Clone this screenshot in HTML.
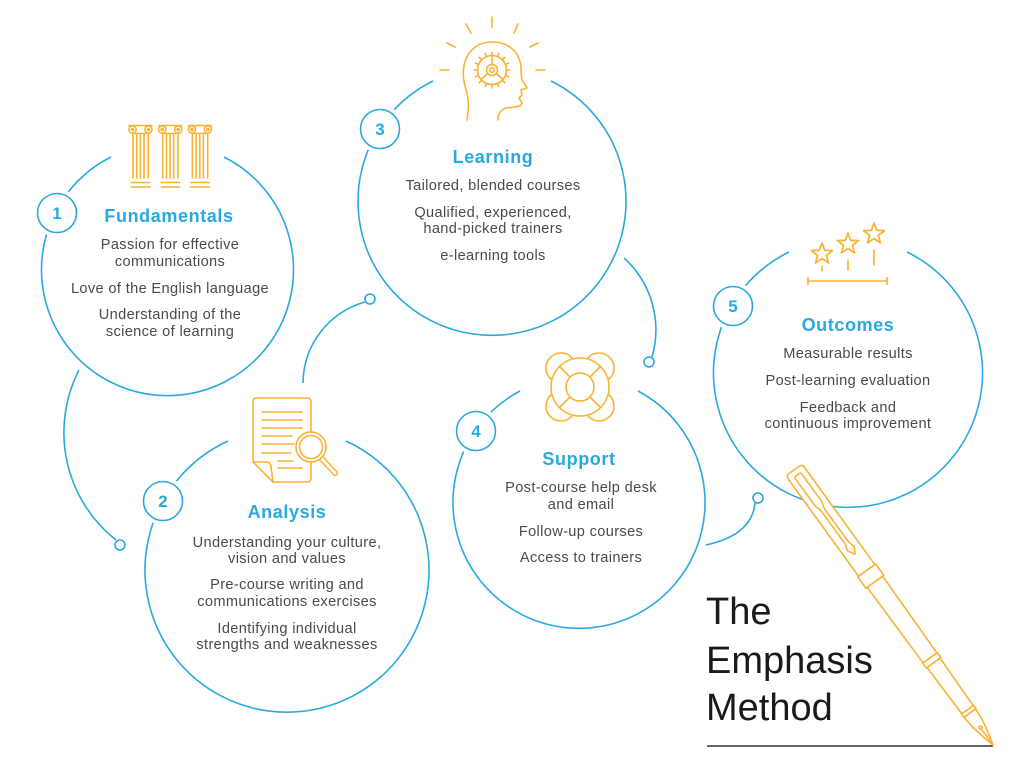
<!DOCTYPE html>
<html><head><meta charset="utf-8"><style>
html,body{margin:0;padding:0;background:#fff;}
svg{display:block;}
.b{fill:none;stroke:#2aa8e0;stroke-width:1.6;}
.o{fill:none;stroke:#f9b233;stroke-width:1.6;stroke-linecap:round;stroke-linejoin:round;}
.ow{fill:#fff;stroke:#f9b233;stroke-width:1.6;stroke-linejoin:round;}
.t{font-family:"Liberation Sans",Arial,sans-serif;font-weight:bold;font-size:18px;fill:#2aa8e0;text-anchor:middle;letter-spacing:0.6px;}
.x{font-family:"Liberation Sans",Arial,sans-serif;font-size:14.6px;fill:#4a4a4a;text-anchor:middle;letter-spacing:0.35px;}
.n{font-family:"Liberation Sans",Arial,sans-serif;font-weight:bold;font-size:17px;fill:#2aa8e0;text-anchor:middle;}
.h{font-family:"Liberation Sans",Arial,sans-serif;font-size:38px;fill:#1a1a1a;}
</style></head><body>
<svg width="1024" height="781" viewBox="0 0 1024 781" xmlns="http://www.w3.org/2000/svg">
<rect width="1024" height="781" fill="#fff"/>

<!-- main circles -->
<path class="b" d="M224,157 A126,126 0 1 1 111,157"/>
<path class="b" d="M346,441 A142,142 0 1 1 228,441"/>
<path class="b" d="M551,81 A134,134 0 1 1 433,81"/>
<path class="b" d="M638,391 A126,126 0 1 1 520,391"/>
<path class="b" d="M907,252 A134.5,134.5 0 1 1 789,252"/>

<!-- connectors -->
<path class="b" d="M79,370 A137,137 0 0 0 116,540"/>
<path class="b" d="M303,383 A85,85 0 0 1 365,302"/>
<path class="b" d="M624,258 A97,97 0 0 1 652,357"/>
<path class="b" d="M706,545 Q752,535 755,503"/>
<circle cx="120" cy="545" r="5" fill="#fff" stroke="#2aa8e0" stroke-width="1.6"/>
<circle cx="370" cy="299" r="5" fill="#fff" stroke="#2aa8e0" stroke-width="1.6"/>
<circle cx="649" cy="362" r="5" fill="#fff" stroke="#2aa8e0" stroke-width="1.6"/>
<circle cx="758" cy="498" r="5" fill="#fff" stroke="#2aa8e0" stroke-width="1.6"/>

<!-- number circles -->
<g>
<circle cx="57" cy="213" r="24" fill="#fff"/><circle cx="57" cy="213" r="19.5" fill="#fff" stroke="#2aa8e0" stroke-width="1.6"/>
<text class="n" x="57" y="219">1</text>
<circle cx="163" cy="501" r="24" fill="#fff"/><circle cx="163" cy="501" r="19.5" fill="#fff" stroke="#2aa8e0" stroke-width="1.6"/>
<text class="n" x="163" y="507">2</text>
<circle cx="380" cy="129" r="24" fill="#fff"/><circle cx="380" cy="129" r="19.5" fill="#fff" stroke="#2aa8e0" stroke-width="1.6"/>
<text class="n" x="380" y="135">3</text>
<circle cx="476" cy="431" r="24" fill="#fff"/><circle cx="476" cy="431" r="19.5" fill="#fff" stroke="#2aa8e0" stroke-width="1.6"/>
<text class="n" x="476" y="437">4</text>
<circle cx="733" cy="306" r="24" fill="#fff"/><circle cx="733" cy="306" r="19.5" fill="#fff" stroke="#2aa8e0" stroke-width="1.6"/>
<text class="n" x="733" y="312">5</text>
</g>

<!-- Text circle 1 -->
<text class="t" x="169" y="222">Fundamentals</text>
<text class="x" x="170" y="249">Passion for effective</text>
<text class="x" x="170" y="266">communications</text>
<text class="x" x="170" y="293">Love of the English language</text>
<text class="x" x="170" y="319">Understanding of the</text>
<text class="x" x="170" y="336">science of learning</text>

<!-- Text circle 2 -->
<text class="t" x="287" y="518">Analysis</text>
<text class="x" x="287" y="547">Understanding your culture,</text>
<text class="x" x="287" y="563">vision and values</text>
<text class="x" x="287" y="589">Pre-course writing and</text>
<text class="x" x="287" y="606">communications exercises</text>
<text class="x" x="287" y="633">Identifying individual</text>
<text class="x" x="287" y="649">strengths and weaknesses</text>

<!-- Text circle 3 -->
<text class="t" x="493" y="163">Learning</text>
<text class="x" x="493" y="190">Tailored, blended courses</text>
<text class="x" x="493" y="217">Qualified, experienced,</text>
<text class="x" x="493" y="233">hand-picked trainers</text>
<text class="x" x="493" y="260">e-learning tools</text>

<!-- Text circle 4 -->
<text class="t" x="579" y="465">Support</text>
<text class="x" x="581" y="492">Post-course help desk</text>
<text class="x" x="581" y="509">and email</text>
<text class="x" x="581" y="536">Follow-up courses</text>
<text class="x" x="581" y="562">Access to trainers</text>

<!-- Text circle 5 -->
<text class="t" x="848" y="331">Outcomes</text>
<text class="x" x="848" y="358">Measurable results</text>
<text class="x" x="848" y="385">Post-learning evaluation</text>
<text class="x" x="848" y="412">Feedback and</text>
<text class="x" x="848" y="428">continuous improvement</text>

<!-- Pillars icon -->
<defs>
<g id="pillar">
<path class="o" d="M129,125.5 H152"/>
<circle class="o" cx="132.5" cy="129.5" r="3.6"/>
<circle class="o" cx="148.5" cy="129.5" r="3.6"/>
<circle class="o" cx="132.5" cy="129.5" r="1"/>
<circle class="o" cx="148.5" cy="129.5" r="1"/>
<path class="o" d="M135,133.5 H146"/>
<path class="o" d="M133,134 V178 M148.3,134 V178 M136.8,135 V178 M140.4,135 V178 M144,135 V178"/>
<path class="o" d="M131.5,182.5 H150 M131.5,187 H150"/>
</g>
</defs>
<use href="#pillar"/>
<use href="#pillar" transform="translate(29.7,0)"/>
<use href="#pillar" transform="translate(59.4,0)"/>

<!-- Head icon -->
<g class="o">
<path d="M492,17 V27 M466,24 L471,33 M518,24 L514,33 M447,43 L455,47 M538,43 L530,47 M440,70 H449 M536,70 H545"/>
<path d="M467,120 C469,108 469,98 465,86 C459,62 470,42 492,42 C512,42 522,56 521,72 L522,80 L527,88 L521,90 L522,95 L519,98 L522,103 C521,107 515,107 506,108 C500,110 498,115 498,120"/>
<circle cx="492" cy="70" r="14.5"/>
<circle cx="492" cy="70" r="5.5"/>
<circle cx="492" cy="70" r="2.3"/>
<path d="M492,64.5 V55.5 M487.5,73.5 L481,79.5 M496.5,73.5 L503,79.5"/>
<g transform="translate(492,70)">
<line x1="0" y1="-14.5" x2="0" y2="-18" transform="rotate(0)"/>
<line x1="0" y1="-14.5" x2="0" y2="-18" transform="rotate(22.5)"/>
<line x1="0" y1="-14.5" x2="0" y2="-18" transform="rotate(45)"/>
<line x1="0" y1="-14.5" x2="0" y2="-18" transform="rotate(67.5)"/>
<line x1="0" y1="-14.5" x2="0" y2="-18" transform="rotate(90)"/>
<line x1="0" y1="-14.5" x2="0" y2="-18" transform="rotate(112.5)"/>
<line x1="0" y1="-14.5" x2="0" y2="-18" transform="rotate(135)"/>
<line x1="0" y1="-14.5" x2="0" y2="-18" transform="rotate(157.5)"/>
<line x1="0" y1="-14.5" x2="0" y2="-18" transform="rotate(180)"/>
<line x1="0" y1="-14.5" x2="0" y2="-18" transform="rotate(202.5)"/>
<line x1="0" y1="-14.5" x2="0" y2="-18" transform="rotate(225)"/>
<line x1="0" y1="-14.5" x2="0" y2="-18" transform="rotate(247.5)"/>
<line x1="0" y1="-14.5" x2="0" y2="-18" transform="rotate(270)"/>
<line x1="0" y1="-14.5" x2="0" y2="-18" transform="rotate(292.5)"/>
<line x1="0" y1="-14.5" x2="0" y2="-18" transform="rotate(315)"/>
<line x1="0" y1="-14.5" x2="0" y2="-18" transform="rotate(337.5)"/>
</g>
</g>

<!-- Document + magnifier icon -->
<g>
<path class="ow" d="M273,482 L253,462 V402 Q253,398 257,398 H307 Q311,398 311,402 V478 Q311,482 307,482 Z"/>
<path class="o" d="M253,462 H266 Q271,462 271,467 L273,482"/>
<path class="o" d="M262,412 H302 M262,420 H302 M262,428 H302 M262,436 H292 M262,444 H294 M262,453 H291 M278,461 H293 M278,468 H302"/>
<line x1="321" y1="458" x2="335" y2="473" stroke="#f9b233" stroke-width="6" stroke-linecap="round"/>
<line x1="321" y1="458" x2="335" y2="473" stroke="#fff" stroke-width="2.8" stroke-linecap="round"/>
<circle class="ow" cx="311" cy="447" r="15"/>
<circle class="o" cx="311" cy="447" r="11.5"/>
</g>

<!-- Lifebuoy icon -->
<g>
<circle class="ow" cx="561" cy="368" r="15"/>
<circle class="ow" cx="599" cy="368" r="15"/>
<circle class="ow" cx="561" cy="406" r="15"/>
<circle class="ow" cx="599" cy="406" r="15"/>
<circle class="ow" cx="580" cy="387" r="29"/>
<circle class="o" cx="580" cy="387" r="14"/>
<path class="o" d="M570.1,377.1 L559.5,366.5 M589.9,377.1 L600.5,366.5 M570.1,396.9 L559.5,407.5 M589.9,396.9 L600.5,407.5"/>
</g>

<!-- Stars icon -->
<g class="o">
<polygon transform="translate(822,254) scale(1.1)" points="0,-10 2.47,-3.4 9.51,-3.09 3.99,1.3 5.88,8.09 0,4.2 -5.88,8.09 -3.99,1.3 -9.51,-3.09 -2.47,-3.4"/>
<polygon transform="translate(848,244) scale(1.1)" points="0,-10 2.47,-3.4 9.51,-3.09 3.99,1.3 5.88,8.09 0,4.2 -5.88,8.09 -3.99,1.3 -9.51,-3.09 -2.47,-3.4"/>
<polygon transform="translate(874,234) scale(1.1)" points="0,-10 2.47,-3.4 9.51,-3.09 3.99,1.3 5.88,8.09 0,4.2 -5.88,8.09 -3.99,1.3 -9.51,-3.09 -2.47,-3.4"/>
<path d="M822,266 V271 M848,260 V270 M874,250 V265 M808,281 H887 M808,277.5 V284.5 M887,277.5 V284.5"/>
</g>

<!-- Title -->
<text class="h" x="706" y="624">The</text>
<text class="h" x="706" y="673">Emphasis</text>
<text class="h" x="706" y="720">Method</text>
<line x1="707" y1="746" x2="993" y2="746" stroke="#333" stroke-width="1.6"/>

<!-- Pen -->
<g transform="translate(794,470) rotate(54.1)">
<path class="ow" d="M4,-10 L124,-10 L124,10 L4,10 Q0,10 0,6 L0,-6 Q0,-10 4,-10 Z"/>
<path class="o" d="M8,-4 L40,-4 C44,-4 46,-2 50,-2 L90,-2 L97,-4 L104,0 L97,4 L90,2 L50,2 C46,2 44,4 40,4 L8,4 Q6,4 6,2 L6,-2 Q6,-4 8,-4 Z"/>
<rect class="ow" x="124" y="-11" width="14" height="22"/>
<path class="ow" d="M138,-9.5 L232,-8.5 L232,8.5 L138,9.5 Z"/>
<rect class="ow" x="232" y="-9" width="6" height="18"/>
<path class="ow" d="M238,-8 L296,-7 L296,7 L238,8 Z"/>
<rect class="ow" x="296" y="-7.5" width="4" height="15"/>
<path class="ow" d="M300,-7 C312,-7 324,-4 339.5,0 C324,4 312,7 300,7 Z"/>
<circle class="o" cx="318" cy="0" r="1.6"/>
<path class="o" d="M320,0 L339,0"/>
</g>
</svg>
</body></html>
